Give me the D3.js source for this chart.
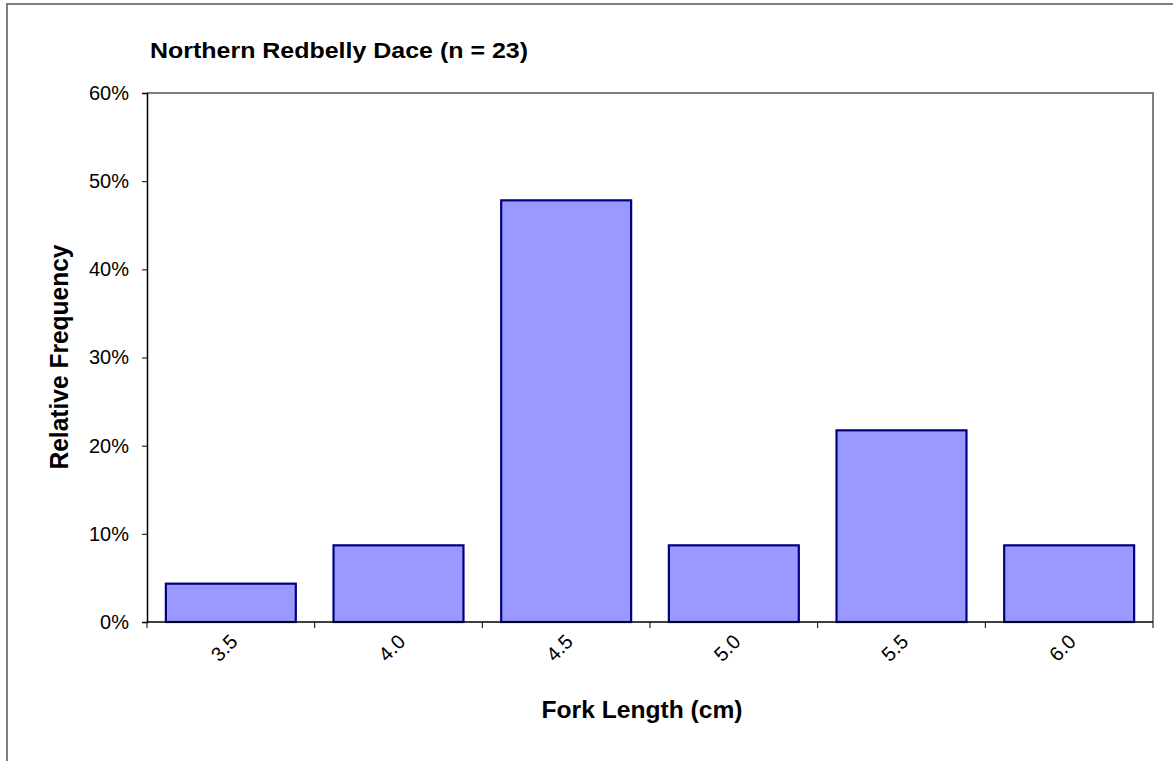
<!doctype html>
<html>
<head>
<meta charset="utf-8"/>
<style>
  html, body { margin: 0; padding: 0; background: #fff; }
  svg { display: block; }
  text { font-family: Arial, "Liberation Sans", sans-serif; fill: #000; }
</style>
<script src="https://d3js.org/d3.v7.min.js"></script>
</head>
<body>
<svg width="1173" height="761"></svg>
<script>
// fork length classes (cm) and relative frequency (n = 23)
var lengths = ["3.5", "4.0", "4.5", "5.0", "5.5", "6.0"];
var freq = [1 / 23, 2 / 23, 11 / 23, 2 / 23, 5 / 23, 2 / 23];
var yTicks = [0, 0.1, 0.2, 0.3, 0.4, 0.5, 0.6];

var title = "Northern Redbelly Dace (n = 23)";
var xTitle = "Fork Length (cm)";
var yTitle = "Relative Frequency";

var svg = d3.select("svg");

// outer chart frame
svg.append("rect")
    .attr("x", 7).attr("y", 4)
    .attr("width", 1180).attr("height", 800)
    .attr("fill", "none")
    .attr("stroke", "#808080")
    .attr("stroke-width", 2);

var pLeft = 147, pRight = 1153, pTop = 93, pBottom = 622;

var x = d3.scaleBand().domain(lengths).range([pLeft, pRight]).paddingInner(0.225).paddingOuter(0.1125);
var xb = d3.scaleBand().domain(lengths).range([pLeft, pRight]);
var y = d3.scaleLinear().domain([0, 0.6]).range([pBottom, pTop]);

// plot area border (top + right in grey)
svg.append("path")
    .attr("d", "M" + pLeft + "," + pTop + "H" + pRight + "V" + pBottom)
    .attr("fill", "none")
    .attr("stroke", "#808080")
    .attr("stroke-width", 2);

// bars
svg.append("g").selectAll("rect")
    .data(freq)
    .join("rect")
    .attr("x", function(d, i) { return x(lengths[i]); })
    .attr("y", function(d) { return y(d); })
    .attr("width", x.bandwidth())
    .attr("height", function(d) { return pBottom - y(d); })
    .attr("fill", "#9999ff")
    .attr("stroke", "#000080")
    .attr("stroke-width", 2.2);

// y axis
var yAxis = svg.append("g")
    .attr("transform", "translate(" + pLeft + ",0)")
    .call(d3.axisLeft(y).tickValues(yTicks).tickFormat(d3.format(".0%")).tickSize(5).tickPadding(13));
yAxis.select(".domain").attr("stroke", "#000").attr("stroke-width", 1.5);
yAxis.selectAll(".tick line").attr("stroke", "#000");
yAxis.selectAll("text").style("font-size", "20px").attr("fill", "#000");

// x axis with boundary ticks between classes
var xAxis = svg.append("g")
    .attr("transform", "translate(0," + pBottom + ")");
xAxis.append("line")
    .attr("x1", pLeft).attr("x2", pRight)
    .attr("stroke", "#000").attr("stroke-width", 1.5);
xAxis.selectAll(".bt")
    .data(lengths.concat(["end"]))
    .join("line")
    .attr("class", "bt")
    .attr("x1", function(d, i) { return i < lengths.length ? xb(d) : pRight; })
    .attr("x2", function(d, i) { return i < lengths.length ? xb(d) : pRight; })
    .attr("y1", 0).attr("y2", 6)
    .attr("stroke", "#000");
xAxis.selectAll(".lab")
    .data(lengths)
    .join("text")
    .attr("class", "lab")
    .attr("text-anchor", "end")
    .style("font-size", "20px")
    .attr("transform", function(d) {
      return "translate(" + (xb(d) + xb.bandwidth() / 2 + 8) + ",21) rotate(-45)";
    })
    .text(function(d) { return d; });

// titles
svg.append("text")
    .attr("x", 150).attr("y", 58)
    .attr("textLength", 378).attr("lengthAdjust", "spacingAndGlyphs")
    .style("font-size", "22px").style("font-weight", "bold")
    .text(title);

svg.append("text")
    .attr("x", 642).attr("y", 718)
    .attr("text-anchor", "middle")
    .attr("textLength", 201).attr("lengthAdjust", "spacingAndGlyphs")
    .style("font-size", "24px").style("font-weight", "bold")
    .text(xTitle);

svg.append("text")
    .attr("transform", "translate(68,357) rotate(-90)")
    .attr("text-anchor", "middle")
    .attr("textLength", 225).attr("lengthAdjust", "spacingAndGlyphs")
    .style("font-size", "25px").style("font-weight", "bold")
    .text(yTitle);
</script>
</body>
</html>
